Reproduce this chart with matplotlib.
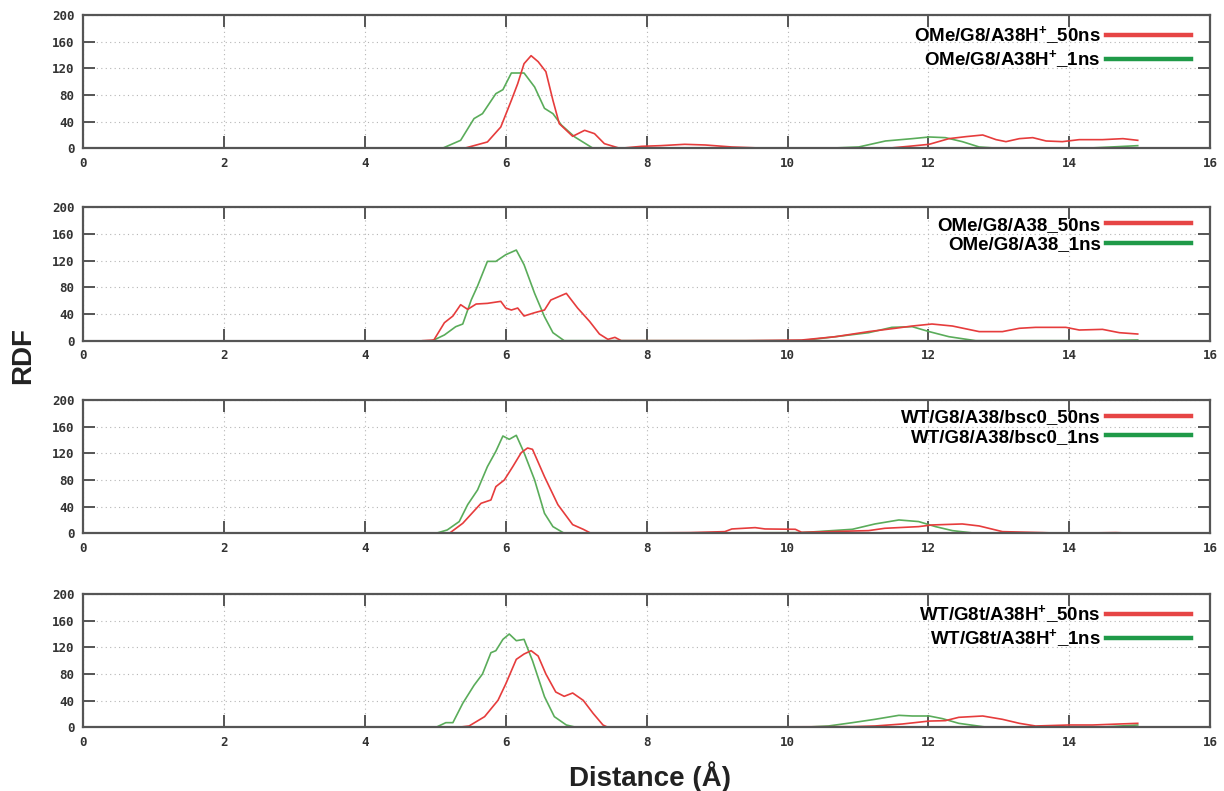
import matplotlib
matplotlib.use("Agg")
import matplotlib.pyplot as plt
from matplotlib.lines import Line2D

# ==== データ (読み取り値) ====
# panel 1: OMe/G8/A38H+
p1_50_x = [5.41, 5.74, 5.93, 6.08, 6.17, 6.26, 6.36, 6.46, 6.57, 6.67, 6.76, 6.95, 7.12, 7.26, 7.40, 7.62,
           7.93, 8.2, 8.54, 8.83, 9.21, 9.73, 11.41, 11.72, 12.01, 12.29, 12.53, 12.77, 12.96, 13.10,
           13.29, 13.48, 13.67, 13.90, 14.14, 14.47, 14.76, 14.97]
p1_50_y = [0, 9.5, 32, 72, 97, 127, 139, 130, 115, 72, 37, 18, 27, 22, 7, 0,
           3, 4, 6, 5, 2, 0, 0, 3, 6, 14.5, 17.5, 20, 13, 10,
           14.5, 16, 11, 10, 13, 13, 14.5, 12]
p1_1_x = [5.10, 5.36, 5.55, 5.67, 5.86, 5.96, 6.08, 6.26, 6.41, 6.55, 6.67, 6.79, 6.98, 7.24,
          10.54, 11.01, 11.39, 11.77, 12.01, 12.24, 12.48, 12.72, 13.0, 14.2, 14.6, 14.97]
p1_1_y = [0, 12, 44.6, 52, 82, 88, 113, 113, 92, 60, 52, 35, 17, 0,
          0, 2, 11, 14.5, 17, 16, 10, 2, 0, 0, 2, 4]

# panel 2: OMe/G8/A38
p2_50_x = [4.82, 4.98, 5.13, 5.25, 5.36, 5.46, 5.58, 5.74, 5.93, 6.00, 6.08, 6.17, 6.26, 6.41, 6.55,
           6.64, 6.86, 7.02, 7.19, 7.33, 7.45, 7.55, 7.64, 9.4, 10.2, 10.68, 11.15, 11.53, 11.77,
           12.05, 12.34, 12.72, 13.05, 13.29, 13.52, 13.95, 14.14, 14.47, 14.71, 14.97]
p2_50_y = [0, 1, 27, 37, 54, 47, 55, 56, 59, 49, 46, 49, 37, 42, 46,
           61, 71, 49, 29, 10, 2, 5, 0, 0, 1, 6, 13.6, 18.6, 22,
           25, 22, 13.6, 13.6, 18.6, 20, 20, 16, 17, 12, 10]
p2_1_x = [4.96, 5.13, 5.29, 5.39, 5.51, 5.60, 5.74, 5.86, 6.00, 6.15, 6.26, 6.41, 6.55, 6.67, 6.83,
          10.2, 10.68, 11.15, 11.48, 11.77, 12.01, 12.29, 12.67, 14.4, 14.97]
p2_1_y = [0, 8.6, 21, 25, 61, 82, 119, 119, 129, 136, 114, 71, 36, 12, 0,
          0, 6, 12, 20, 21, 13.6, 6, 0, 0, 1]

# panel 3: WT/G8/A38/bsc0
p3_50_x = [5.20, 5.39, 5.65, 5.79, 5.86, 5.98, 6.10, 6.22, 6.31, 6.38, 6.55, 6.74, 6.95, 7.10, 7.21,
           8.61, 9.11, 9.21, 9.54, 9.68, 10.11, 10.2, 11.15, 11.38, 11.86, 12.05, 12.48, 12.72,
           13.05, 13.62, 13.9, 14.66, 14.94]
p3_50_y = [0, 15, 45, 50, 70, 80, 100, 121, 128, 126, 85, 43, 13, 6, 0,
           1, 2.5, 6.5, 8.5, 6.5, 6, 1.5, 4, 7.5, 10, 12.5, 14, 11,
           2.5, 1, 0, 1, 0]
p3_1_x = [5.01, 5.17, 5.34, 5.46, 5.60, 5.74, 5.86, 5.96, 6.05, 6.15, 6.26, 6.41, 6.55, 6.67, 6.83,
          10.2, 10.92, 11.24, 11.58, 11.86, 12.10, 12.34, 12.67, 14.94]
p3_1_y = [0, 5, 17.6, 43, 65, 100, 123, 146, 141, 147, 121, 80, 30, 10, 0,
          1, 6, 14, 20, 17.6, 10, 4, 0, 0]

# panel 4: WT/G8t/A38H+
p4_50_x = [5.32, 5.48, 5.70, 5.89, 6.00, 6.15, 6.26, 6.36, 6.46, 6.57, 6.71, 6.83, 6.95, 7.10, 7.24,
           7.38, 7.45, 10.92, 11.24, 11.63, 12.01, 12.24, 12.43, 12.77, 13.05, 13.29, 13.52,
           14.0, 14.33, 14.71, 14.97]
p4_50_y = [0, 2, 16, 40.5, 65, 102, 110, 115, 107, 80, 53, 46.5, 51.5, 40.5, 21,
           3.5, 0, 1, 2, 5, 9.4, 10, 15, 17, 12, 6, 2,
           3.5, 3.5, 5, 6]
p4_1_x = [5.01, 5.15, 5.25, 5.39, 5.55, 5.67, 5.79, 5.86, 5.96, 6.05, 6.15, 6.26, 6.38, 6.55, 6.69,
          6.86, 7.00, 10.2, 10.58, 10.92, 11.24, 11.58, 11.77, 12.01, 12.20, 12.43, 12.77, 12.86,
          14.4, 14.97]
p4_1_y = [0, 7, 7, 36, 63, 80, 112, 115, 132, 140, 130, 132, 100, 46, 16,
          3.5, 0, 0, 2, 7, 12, 18, 17, 17, 13, 6, 1, 0,
          0, 3.5]

labels_50 = ["OMe/G8/A38H$^{+}$_50ns", "OMe/G8/A38_50ns", "WT/G8/A38/bsc0_50ns", "WT/G8t/A38H$^{+}$_50ns"]
labels_1 = ["OMe/G8/A38H$^{+}$_1ns", "OMe/G8/A38_1ns", "WT/G8/A38/bsc0_1ns", "WT/G8t/A38H$^{+}$_1ns"]

xticks = [0, 2, 4, 6, 8, 10, 12, 14, 16]
yticks = [0, 40, 80, 120, 160, 200]

# ==== スタイル ====
plt.rcParams["mathtext.fontset"] = "custom"
plt.rcParams["mathtext.rm"] = "Liberation Sans:bold"
plt.rcParams["mathtext.bf"] = "Liberation Sans:bold"
plt.rcParams["mathtext.default"] = "bf"

red = "#e63c3c"
green = "#5aac5a"
red_leg = "#e64545"
green_leg = "#1f9a48"
frame = "#555555"

fig = plt.figure(figsize=(12.24, 7.91), dpi=100)
fig.patch.set_facecolor("white")

bottoms = [0.8125, 0.5693, 0.3258, 0.0805]
series = [(p1_50_x, p1_50_y, p1_1_x, p1_1_y),
          (p2_50_x, p2_50_y, p2_1_x, p2_1_y),
          (p3_50_x, p3_50_y, p3_1_x, p3_1_y),
          (p4_50_x, p4_50_y, p4_1_x, p4_1_y)]

for i, (b, (rx, ry, gx, gy)) in enumerate(zip(bottoms, series)):
    ax = fig.add_axes([0.0678, b, 0.921, 0.1685])
    ax.plot(gx, gy, color=green, lw=1.2, zorder=2)
    ax.plot(rx, ry, color=red, lw=1.2, zorder=2)
    ax.set_xlim(0, 16)
    ax.set_ylim(0, 200)
    ax.set_xticks(xticks)
    ax.set_yticks(yticks)
    ax.grid(True, color="#b5b5b5", lw=0.8, linestyle=(0, (1, 3)))
    ax.set_axisbelow(True)
    for s in ax.spines.values():
        s.set_color(frame)
        s.set_linewidth(1.6)
        s.set_zorder(3)
    ax.tick_params(direction="in", length=8.5, width=1.4, color=frame,
                   top=True, right=True, labelsize=9, labelcolor="#333333", pad=6)
    for lab in ax.get_xticklabels() + ax.get_yticklabels():
        lab.set_family("DejaVu Sans Mono")
        lab.set_fontweight("bold")

    # 凡例: 文字が左、線が右
    handles = [Line2D([], [], color=red_leg, lw=3.2), Line2D([], [], color=green_leg, lw=3.2)]
    ax.legend(handles, [labels_50[i], labels_1[i]], loc="upper right", bbox_to_anchor=(0.991, 1.0),
              frameon=False, markerfirst=False, handlelength=4.5, handletextpad=0.3,
              labelspacing=0.12, borderaxespad=0.2, borderpad=0.3,
              prop={"family": "Liberation Sans", "weight": "bold", "size": 13.5})

fig.text(0.019, 0.55, "RDF", rotation=90, ha="center", va="center",
         fontsize=20, fontweight="bold", family="Liberation Sans", color="#222222")
fig.text(0.531, 0.018, "Distance (Å)", ha="center", va="center",
         fontsize=20, fontweight="bold", family="Liberation Sans", color="#222222")

fig.savefig("out.png", dpi=100, facecolor="white")
